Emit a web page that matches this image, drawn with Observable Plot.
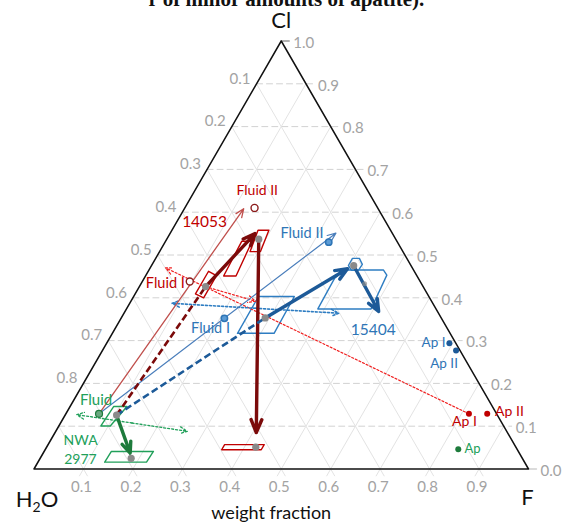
<!DOCTYPE html>
<html><head><meta charset="utf-8">
<script src="https://cdn.jsdelivr.net/npm/d3@7"></script>
<script src="https://cdn.jsdelivr.net/npm/@observablehq/plot@0.6"></script>
<style>html,body{margin:0;padding:0;background:#fff;} #chart{width:562px;height:522px;overflow:hidden;}</style>
</head><body><div id="chart"></div>
<script>
// ---- axis ticks ----
const ticks = [0.1,0.2,0.3,0.4,0.5,0.6,0.7,0.8,0.9];
const rightTickValues = [0,0.1,0.2,0.3,0.4,0.5,0.6,0.7,0.8,0.9,1.0];
const rightTickLabels = ["0.0","0.1","0.2","0.3","0.4","0.5","0.6","0.7","0.8","0.9","1.0"];
const leftTickValues = [0.2,0.3,0.4,0.5,0.6,0.7,0.8,0.9];   // Cl level
const leftTickLabels = ["0.8","0.7","0.6","0.5","0.4","0.3","0.2","0.1"];
const bottomTickLabels = ["0.1","0.2","0.3","0.4","0.5","0.6","0.7","0.8","0.9"];

// ---- compositions as [F, Cl] weight fractions (H2O = 1 - F - Cl) ----
const greyDots = [[0.134,0.426],[0.186,0.537],[0.423,0.051],[0.104,0.126],[0.184,0.025],[0.291,0.353],[0.409,0.475]];
const faintGreyDots = [[0.452,0.433]];
const redFluidCircles = [[0.141,0.610],[0.096,0.438]];
const redApatite = [[0.815,0.129],[0.852,0.129]];
const blueFluidDots = [[0.209,0.352],[0.331,0.530]];
const blueApatite = [[0.693,0.294],[0.715,0.277]];
const greenFluidDot = [[0.067,0.129]];
const greenApatite = [[0.835,0.046]];

// ---- outlined fields ----
const redFields = [
  [[0.122,0.409],[0.143,0.400],[0.143,0.452],[0.122,0.462]],
  [[0.158,0.451],[0.183,0.451],[0.175,0.532],[0.154,0.532]],
  [[0.183,0.508],[0.204,0.508],[0.196,0.558],[0.174,0.558]],
  [[0.357,0.045],[0.437,0.045],[0.437,0.057],[0.357,0.057]]
];
const blueFields = [
  [[0.253,0.317],[0.327,0.317],[0.325,0.403],[0.2525,0.403]],
  [[0.398,0.4755],[0.398,0.492],[0.412,0.492],[0.425,0.478],[0.424,0.464],[0.410,0.464]],
  [[0.387,0.374],[0.385,0.445],[0.3955,0.465],[0.474,0.465],[0.487,0.453],[0.4946,0.374]]
];
const greenFields = [
  [[0.085,0.1005],[0.104,0.1005],[0.115,0.146],[0.088,0.146]],
  [[0.135,0.016],[0.2195,0.016],[0.221,0.041],[0.136,0.041]]
];

// ---- arrows and connecting lines (head = arrowhead length in px) ----
const solidArrows = [
  {from:[0.067,0.129], to:[0.120,0.608], c:"#c0504d", w:1.3, head:9},
  {from:[0.067,0.129], to:[0.335,0.551], c:"#4a7ebb", w:1.2, head:9},
  {from:[0.134,0.426], to:[0.172,0.550], c:"#7b0a0a", w:3.4, head:13},
  {from:[0.186,0.537], to:[0.407,0.085], c:"#7b0a0a", w:3.4, head:14},
  {from:[0.291,0.353], to:[0.400,0.468], c:"#1d5a98", w:3.4, head:13},
  {from:[0.409,0.475], to:[0.513,0.368], c:"#1d5a98", w:3.4, head:13},
  {from:[0.104,0.126], to:[0.176,0.037], c:"#1e7b3c", w:3.4, head:12}
];
const dashedLinks = [
  {from:[0.104,0.126], to:[0.134,0.426], c:"#7b0a0a"},
  {from:[0.104,0.126], to:[0.291,0.353], c:"#1d5a98"}
];
const dottedArrows = [
  {from:[0.815,0.129], to:[0.031,0.470], c:"#f02020", w:1.2},
  {from:[0.134,0.426], to:[0.252,0.392], c:"#f02020", w:1.2}
];
const dottedDoubleArrows = [
  {a:[0.086,0.387], b:[0.434,0.364], c:"#2e7dc2", w:1.6},
  {a:[0.023,0.127], b:[0.266,0.088], c:"#21a05a", w:1.3}
];

// ---- text labels ----
const labels = [
  {t:"Fluid II", at:[0.126,0.651], c:"#c00000", s:14},
  {t:"14053", at:[0.0565,0.577], c:"#c00000", s:15.5},
  {t:"Fluid I", at:[0.049,0.433], c:"#c00000", s:14.5},
  {t:"Fluid II", at:[0.267,0.550], c:"#2e75b6", s:14.5},
  {t:"Fluid I", at:[0.193,0.328], c:"#2e75b6", s:14.5},
  {t:"15404", at:[0.524,0.324], c:"#2e75b6", s:15.5},
  {t:"Ap I", at:[0.660,0.296], c:"#2e75b6", s:13.5},
  {t:"Ap II", at:[0.706,0.2465], c:"#2e75b6", s:13.5},
  {t:"Ap I", at:[0.815,0.111], c:"#c00000", s:14},
  {t:"Ap II", at:[0.894,0.135], c:"#c00000", s:14},
  {t:"Ap", at:[0.864,0.046], c:"#21a05a", s:13},
  {t:"Fluid", at:[0.045,0.161], c:"#21a05a", s:15},
  {t:"NWA", at:[0.061,0.0666], c:"#21a05a", s:14},
  {t:"2977", at:[0.0835,0.021], c:"#21a05a", s:14}
];

// ---- ternary -> cartesian ----
const X = d => d[0] + d[1] / 2;
const Y = d => d[1];
const E = 0.016; // tick extension
// Plot.arrow scales the head by strokeWidth/1.5; convert px length to its option
const headOpt = (px, w) => px * 1.5 / w;

const marks = [];
// grid
ticks.forEach(v => {
  marks.push(Plot.line([[0,v],[1 - v + E, v]], {x:X, y:Y, stroke:"#d2d2d2", strokeWidth:1, strokeDasharray:"6,4"}));
  marks.push(Plot.line([[v,-E],[v,1 - v]], {x:X, y:Y, stroke:"#e3e3e3", strokeWidth:1}));
  marks.push(Plot.line([[v + E,-E],[0,v]], {x:X, y:Y, stroke:"#e3e3e3", strokeWidth:1}));
});
marks.push(Plot.line([[1,0],[1 + E,0]], {x:X, y:Y, stroke:"#cfcfcf"}));
marks.push(Plot.line([[0,1],[E,1]], {x:X, y:Y, stroke:"#999"}));
// triangle
marks.push(Plot.line([[0,0],[1,0],[0,1],[0,0]], {x:X, y:Y, stroke:"#111", strokeWidth:1.5}));
// tick labels
marks.push(Plot.text(rightTickValues, {x:c => X([1 - c, c]), y:c => c, text:(c,i) => rightTickLabels[i], textAnchor:"start", dx:12, dy:2, fill:"#a3a3a3", fontSize:15}));
marks.push(Plot.text(leftTickValues, {x:c => X([0, c]), y:c => c, text:(c,i) => leftTickLabels[i], textAnchor:"end", dx:-6, dy:-5, fill:"#a3a3a3", fontSize:15}));
marks.push(Plot.text(ticks, {x:f => f, y:0, text:(f,i) => bottomTickLabels[i], dx:-2, dy:18, fill:"#a3a3a3", fontSize:15}));
// vertex labels
marks.push(Plot.text(["Cl"], {x:0.5, y:1, dy:-20, fontSize:22, fill:"#111"}));
marks.push(Plot.text(["H2O"], {x:0, y:0, dx:3, dy:31, fontSize:22, fill:"#111"}));
marks.push(Plot.text(["F"], {x:1, y:0, dx:-1, dy:29, fontSize:22, fill:"#111"}));
marks.push(Plot.text(["weight fraction"], {x:0.5, y:0, dx:-10, dy:44, fontSize:18, fill:"#111"}));
marks.push(Plot.text(["r of minor amounts of apatite)."], {frameAnchor:"top-left", dx:148, dy:5, lineAnchor:"bottom", textAnchor:"start", fontSize:21, fontWeight:"bold", fontFamily:"'Liberation Serif', serif", fill:"#111"}));

// fields
const addFields = (fields, color) => fields.forEach(p => marks.push(Plot.line([...p, p[0]], {x:X, y:Y, stroke:color, strokeWidth:1.4, strokeLinejoin:"round"})));
addFields(redFields, "#c00000");
addFields(blueFields, "#2e7dc2");
addFields(greenFields, "#21a05a");

// dotted
dottedArrows.forEach(a => marks.push(Plot.arrow([a], {x1:d=>X(d.from), y1:d=>Y(d.from), x2:d=>X(d.to), y2:d=>Y(d.to), stroke:a.c, strokeWidth:a.w, strokeDasharray:"2,2", headLength:headOpt(8, a.w), headAngle:50})));
dottedDoubleArrows.forEach(a => {
  const m = [(a.a[0] + a.b[0]) / 2, (a.a[1] + a.b[1]) / 2];
  [a.a, a.b].forEach(end => marks.push(Plot.arrow([end], {x1:X(m), y1:Y(m), x2:d=>X(d), y2:d=>Y(d), stroke:a.c, strokeWidth:a.w, strokeDasharray:"2,2", headLength:headOpt(8, a.w), headAngle:50})));
});
// thin + thick arrows
solidArrows.forEach(a => marks.push(Plot.arrow([a], {x1:d=>X(d.from), y1:d=>Y(d.from), x2:d=>X(d.to), y2:d=>Y(d.to), stroke:a.c, strokeWidth:a.w, headLength:headOpt(a.head, a.w), headAngle:45})));
dashedLinks.forEach(a => marks.push(Plot.link([a], {x1:d=>X(d.from), y1:d=>Y(d.from), x2:d=>X(d.to), y2:d=>Y(d.to), stroke:a.c, strokeWidth:2.6, strokeDasharray:"7,3.5"})));

// points
marks.push(Plot.dot(greyDots, {x:X, y:Y, r:3.6, fill:"#8a8a8a"}));
marks.push(Plot.dot(faintGreyDots, {x:X, y:Y, r:2.5, fill:"#8a8a8a", fillOpacity:0.7}));
marks.push(Plot.dot(redFluidCircles, {x:X, y:Y, r:3.5, fill:"white", stroke:"#8b1a1a", strokeWidth:1.4}));
marks.push(Plot.dot(redApatite, {x:X, y:Y, r:3, fill:"#c00000"}));
marks.push(Plot.dot(blueFluidDots, {x:X, y:Y, r:3.2, fill:"#5b9bd5", stroke:"#2e75b6"}));
marks.push(Plot.dot(blueApatite, {x:X, y:Y, r:3, fill:"#1d5a98"}));
marks.push(Plot.dot(greenFluidDot, {x:X, y:Y, r:3.5, fill:"#6aa880", stroke:"#1e7b3c", strokeWidth:1.2}));
marks.push(Plot.dot(greenApatite, {x:X, y:Y, r:3, fill:"#1e7b3c"}));

// labels
labels.forEach(l => marks.push(Plot.text([l], {x:d=>X(d.at), y:d=>Y(d.at), text:"t", fill:l.c, fontSize:l.s})));

const svg = Plot.plot({
  width: 562, height: 522,
  margin: 0,
  x: {domain:[0,1], range:[33.5,528], axis:null},
  y: {domain:[0,1], range:[468.5,40.5], axis:null},
  style: {fontFamily:"Lato, 'Open Sans', sans-serif", background:"white", overflow:"hidden"},
  marks
});
document.getElementById("chart").appendChild(svg);

// subscript in H2O
d3.select(svg).selectAll("text").filter(function(){ return this.textContent === "H2O"; }).each(function(){
  const t = d3.select(this);
  t.text(null);
  t.append("tspan").text("H");
  t.append("tspan").attr("font-size", 14).attr("dy", 5).text("2");
  t.append("tspan").attr("dy", -5).text("O");
});
</script>
</body></html>
